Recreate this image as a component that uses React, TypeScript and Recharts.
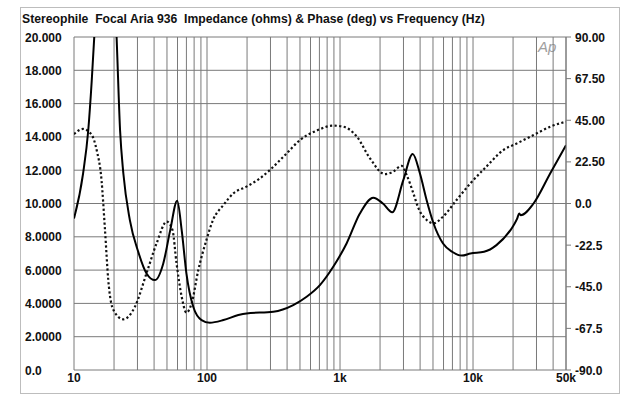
import React from 'react';
import { LineChart, Line, XAxis, YAxis, CartesianGrid } from 'recharts';

// impedance magnitude (ohms)
const impFreq = [
  10, 11.7, 12.8, 13.6, 14.2, 15.5, 17, 19, 20.9, 22.2, 23.5, 26.3, 30.4, 35.1, 40.6, 46.9, 52.9, 59.7,
  64.5, 70, 78.8, 91, 105, 133, 172, 198, 315, 445, 561, 706, 889, 1120, 1410, 1780, 2100, 2470, 2990,
  3520, 3990, 4480, 5050, 5950, 6960, 8240, 9560, 12100, 15000, 20200, 21500, 22200, 22800, 28500, 38000,
  50000,
];
const impValues = [
  9.1, 11.8, 14.4, 17.4, 20, 27, 33, 27, 20, 14.4, 11.8, 9.0, 7.1, 5.8, 5.4, 6.4, 8.4, 10.17,
  8.4, 5.8, 3.8, 3.0, 2.84, 3.0, 3.3, 3.4, 3.5, 3.9, 4.4, 5.1, 6.2, 7.6, 9.4, 10.35, 10.0, 9.47, 11.4,
  12.97, 11.8, 10.2, 8.8, 7.6, 7.1, 6.87, 7.0, 7.1, 7.5, 8.7, 9.1, 9.4, 9.3, 10.0, 11.8,
  13.5,
];

// phase (deg)
const phaseFreq = [
  10, 11.7, 13.6, 14.8, 16.1, 17.1, 18.1, 19.8, 23.5, 28.7, 35.1, 41.8, 49.8, 55, 59, 64.5, 70, 76.6, 86,
  99, 111, 133, 158, 198, 250, 297, 397, 500, 667, 889, 1060, 1340, 1680, 2170, 2510, 2900, 3170, 3560,
  3890, 4480, 5050, 5950, 7520, 9560, 12600, 16900, 21400, 28500, 38000, 50000,
];
const phaseValues = [
  37.5, 40.3, 37, 28.9, 12.7, -14.3, -41.4, -57.6, -62.6, -55.8, -37.7, -21.5, -9.8, -14.3, -32.3, -50.4,
  -59, -54, -36, -19.7, -8.9, -0.8, 5.5, 9.1, 13.6, 18.1, 27.1, 34.3, 39.4, 42.1, 41.5, 36.1, 24.4, 15.9,
  17.2, 20.4, 15.4, 5.5, -2.6, -8.9, -10.7, -7.1, 1.9, 10.9, 19.9, 28.9, 32.5, 37, 41.5, 44.2,
];

const freqTicks = [
  10, 20, 30, 40, 50, 60, 70, 80, 90, 100, 200, 300, 400, 500, 600, 700, 800, 900, 1000, 2000, 3000,
  4000, 5000, 6000, 7000, 8000, 9000, 10000, 20000, 30000, 40000, 50000,
];
const freqLabels: Record<number, string> = { 10: '10', 100: '100', 1000: '1k', 10000: '10k', 50000: '50k' };

const impTicks = [0, 2, 4, 6, 8, 10, 12, 14, 16, 18, 20];
const impLabels = ['0.0', '2.0000', '4.0000', '6.0000', '8.0000', '10.000', '12.000', '14.000', '16.000', '18.000', '20.000'];

const phaseTicks = [-90, -67.5, -45, -22.5, 0, 22.5, 45, 67.5, 90];
const phaseLabels = ['-90.0', '-67.5', '-45.0', '-22.5', '0.0', '22.50', '45.00', '67.50', '90.00'];

const impData = impFreq.map((f, i) => ({ f, z: impValues[i] }));
const phaseData = phaseFreq.map((f, i) => ({ f, p: phaseValues[i] }));

const FONT = '"Liberation Sans", Arial, Helvetica, sans-serif';
const GRID = '#7a7a7a';

const FreqTick = (props: any) => {
  const label = freqLabels[props.payload.value];
  if (!label) return null;
  return (
    <text x={props.x} y={props.y} dy={9} textAnchor="middle" fontFamily={FONT} fontWeight="bold" fontSize={12} fill="#111">
      {label}
    </text>
  );
};

const ImpTick = (props: any) => {
  const idx = impTicks.indexOf(props.payload.value);
  return (
    <text x={25} y={props.y} dy={4.5} textAnchor="start" fontFamily={FONT} fontWeight="bold" fontSize={12} fill="#111">
      {impLabels[idx]}
    </text>
  );
};

const PhaseTick = (props: any) => {
  const idx = phaseTicks.indexOf(props.payload.value);
  return (
    <text x={props.x} y={props.y} dy={4.5} textAnchor="start" fontFamily={FONT} fontWeight="bold" fontSize={12} fill="#111">
      {phaseLabels[idx]}
    </text>
  );
};

export default function App() {
  return (
    <div style={{ position: 'fixed', left: 0, top: 0, width: 627, height: 399, background: '#fff', fontFamily: FONT }}>
      <div
        style={{
          position: 'absolute', left: 20, top: 7, width: 600, height: 387,
          border: '1px solid #bdbdbd', boxSizing: 'border-box',
        }}
      />
      <div
        style={{
          position: 'absolute', left: 22, top: 12, fontSize: 12.2, fontWeight: 'bold', color: '#111',
          whiteSpace: 'pre', lineHeight: '14px',
        }}
      >
        {'Stereophile  Focal Aria 936  Impedance (ohms) & Phase (deg) vs Frequency (Hz)'}
      </div>
      <div
        style={{
          position: 'absolute', left: 538, top: 39, fontSize: 15, fontStyle: 'italic', color: '#a0a0a0',
          lineHeight: '16px',
        }}
      >
        Ap
      </div>
      <LineChart
        width={627}
        height={399}
        margin={{ top: 37, right: 11, bottom: 9, left: 24 }}
        style={{ position: 'absolute', left: 0, top: 0 }}
      >
        <CartesianGrid yAxisId="z" stroke={GRID} strokeWidth={1} />
        <XAxis
          dataKey="f"
          type="number"
          scale="log"
          domain={[10, 50000]}
          ticks={freqTicks}
          interval={0}
          allowDataOverflow
          axisLine={false}
          tickLine={false}
          tickSize={0}
          tickMargin={3}
          height={20}
          tick={<FreqTick />}
        />
        <YAxis
          yAxisId="z"
          orientation="left"
          domain={[0, 20]}
          ticks={impTicks}
          interval={0}
          allowDataOverflow
          axisLine={false}
          tickLine={false}
          width={50}
          tick={<ImpTick />}
        />
        <YAxis
          yAxisId="p"
          orientation="right"
          domain={[-90, 90]}
          ticks={phaseTicks}
          interval={0}
          allowDataOverflow
          axisLine={{ stroke: GRID }}
          tickLine={{ stroke: GRID }}
          tickSize={5}
          tickMargin={4}
          width={50}
          tick={<PhaseTick />}
        />
        <Line
          yAxisId="p"
          data={phaseData}
          dataKey="p"
          type="monotone"
          stroke="#111"
          strokeWidth={2.2}
          strokeDasharray="2.2 2.4"
          dot={false}
          isAnimationActive={false}
        />
        <Line
          yAxisId="z"
          data={impData}
          dataKey="z"
          type="monotone"
          stroke="#000"
          strokeWidth={2}
          dot={false}
          isAnimationActive={false}
        />
      </LineChart>
    </div>
  );
}
